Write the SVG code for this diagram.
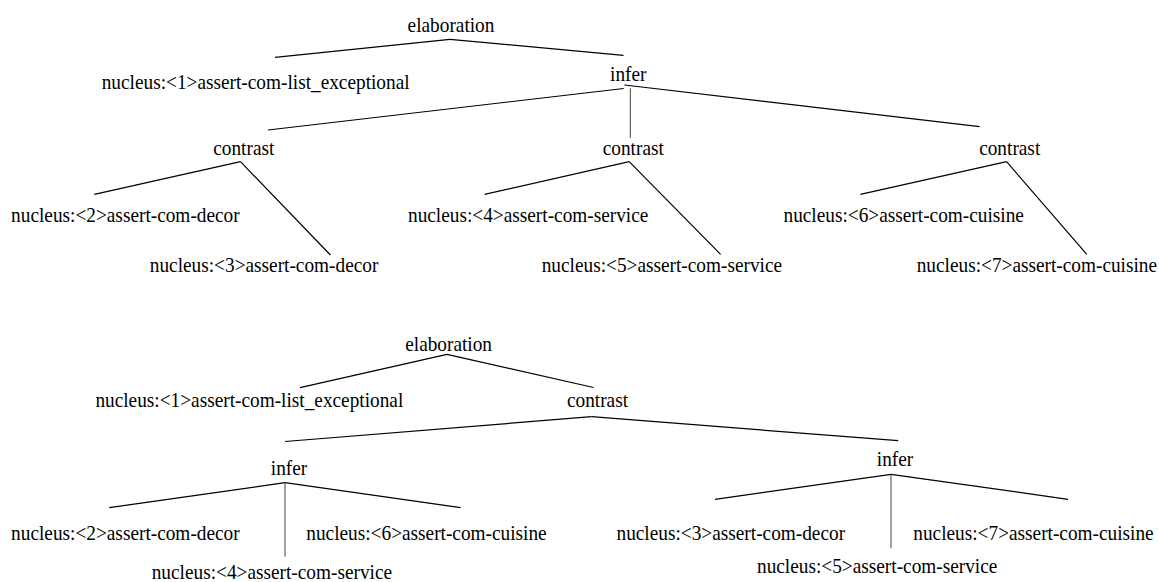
<svg xmlns="http://www.w3.org/2000/svg" width="1159" height="582" viewBox="0 0 1159 582">
<style>
text{font-family:"Liberation Serif","Times New Roman",serif;font-size:19.3px;fill:#000}
.m{text-anchor:middle}
#connectors line{stroke:#000;stroke-width:1.2;fill:none}
#connectors line.v{stroke:#444;stroke-width:1}
</style>
<rect width="1159" height="582" fill="#fff"/>
<g id="connectors">
<line x1="450" y1="39.3" x2="275" y2="57.3"/>
<line x1="450" y1="39.3" x2="623.5" y2="55.3"/>
<line x1="623.7" y1="88.5" x2="268" y2="130"/>
<line class="v" x1="630.3" y1="88.3" x2="630.3" y2="138"/>
<line x1="624.4" y1="85" x2="979.6" y2="126.7"/>
<line x1="240.5" y1="161.7" x2="94.3" y2="194.3"/>
<line x1="240.5" y1="161.7" x2="330.4" y2="255"/>
<line x1="629.2" y1="161.7" x2="484.6" y2="194.3"/>
<line x1="629.2" y1="161.7" x2="720.6" y2="254.3"/>
<line x1="1006.6" y1="161.7" x2="860.4" y2="194.3"/>
<line x1="1006.6" y1="161.7" x2="1086.8" y2="254.3"/>
<line x1="447" y1="354.3" x2="300" y2="387.7"/>
<line x1="447" y1="354.3" x2="593.5" y2="387.5"/>
<line x1="591.5" y1="416.7" x2="285" y2="441.5"/>
<line x1="591.5" y1="416.7" x2="898.2" y2="440.7"/>
<line x1="285" y1="482.7" x2="109.3" y2="507.7"/>
<line x1="285" y1="482.7" x2="460.6" y2="507.7"/>
<line class="v" x1="285" y1="482.7" x2="285" y2="556.7"/>
<line x1="891" y1="474.3" x2="715" y2="499.3"/>
<line x1="891" y1="474.3" x2="1068.1" y2="499.3"/>
<line class="v" x1="891" y1="474.3" x2="891" y2="548.3"/>
</g>
<g id="t-elaboration"><text class="m" transform="matrix(1 0 0 1.12 451 32)">elaboration</text></g>
<g id="t-n1"><text transform="matrix(1 0 0 1.12 101.7 89.3)">nucleus:&lt;1&gt;assert-com-list_exceptional</text></g>
<g id="t-infer"><text class="m" transform="matrix(1 0 0 1.12 628.3 81)">infer</text></g>
<g id="t-contrast1"><text class="m" transform="matrix(1 0 0 1.12 243.8 155)">contrast</text></g>
<g id="t-contrast2"><text class="m" transform="matrix(1 0 0 1.12 633.3 155)">contrast</text></g>
<g id="t-contrast3"><text class="m" transform="matrix(1 0 0 1.12 1009.7 155)">contrast</text></g>
<g id="t-n2"><text transform="matrix(1 0 0 1.12 11.1 221.7)">nucleus:&lt;2&gt;assert-com-decor</text></g>
<g id="t-n3"><text transform="matrix(1 0 0 1.12 149.8 271.7)">nucleus:&lt;3&gt;assert-com-decor</text></g>
<g id="t-n4"><text transform="matrix(1 0 0 1.12 408 221.7)">nucleus:&lt;4&gt;assert-com-service</text></g>
<g id="t-n5"><text transform="matrix(1 0 0 1.12 541.7 271.7)">nucleus:&lt;5&gt;assert-com-service</text></g>
<g id="t-n6"><text transform="matrix(1 0 0 1.12 783.5 221.7)">nucleus:&lt;6&gt;assert-com-cuisine</text></g>
<g id="t-n7"><text transform="matrix(1 0 0 1.12 916.7 271.7)">nucleus:&lt;7&gt;assert-com-cuisine</text></g>
<g id="b-elaboration"><text class="m" transform="matrix(1 0 0 1.12 448.6 350.7)">elaboration</text></g>
<g id="b-n1"><text transform="matrix(1 0 0 1.12 95.4 407.3)">nucleus:&lt;1&gt;assert-com-list_exceptional</text></g>
<g id="b-contrast"><text class="m" transform="matrix(1 0 0 1.12 597.5 407.3)">contrast</text></g>
<g id="b-infer1"><text class="m" transform="matrix(1 0 0 1.12 289 475)">infer</text></g>
<g id="b-infer2"><text class="m" transform="matrix(1 0 0 1.12 895 466)">infer</text></g>
<g id="b-n2"><text transform="matrix(1 0 0 1.12 11.1 540)">nucleus:&lt;2&gt;assert-com-decor</text></g>
<g id="b-n6"><text transform="matrix(1 0 0 1.12 306.3 540)">nucleus:&lt;6&gt;assert-com-cuisine</text></g>
<g id="b-n4"><text transform="matrix(1 0 0 1.12 151.7 579)">nucleus:&lt;4&gt;assert-com-service</text></g>
<g id="b-n3"><text transform="matrix(1 0 0 1.12 616.5 540)">nucleus:&lt;3&gt;assert-com-decor</text></g>
<g id="b-n7"><text transform="matrix(1 0 0 1.12 913.3 540)">nucleus:&lt;7&gt;assert-com-cuisine</text></g>
<g id="b-n5"><text transform="matrix(1 0 0 1.12 757 573.3)">nucleus:&lt;5&gt;assert-com-service</text></g>
</svg>
